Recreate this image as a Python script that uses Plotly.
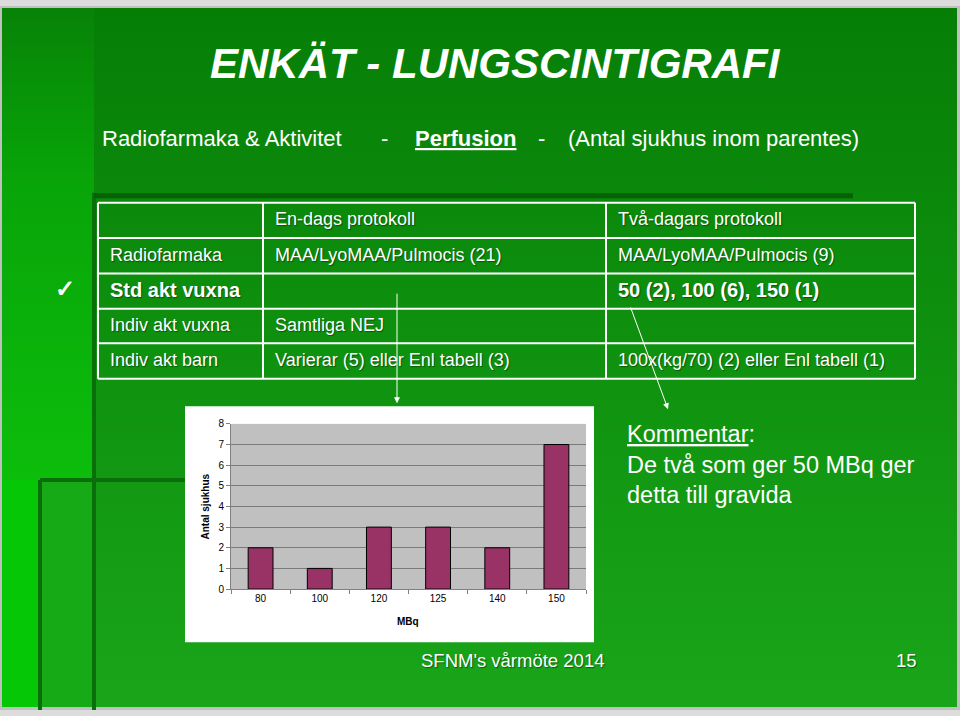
import plotly.graph_objects as go

# Chart data (Antal sjukhus per aktivitet, MBq)
mbq = ['80', '100', '120', '125', '140', '150']
antal_sjukhus = [2, 1, 3, 3, 2, 7]

# Table contents
row_labels = ['', 'Radiofarmaka', 'Std akt vuxna', 'Indiv akt vuxna', 'Indiv akt barn']
en_dags = ['En-dags protokoll', 'MAA/LyoMAA/Pulmocis (21)', '', 'Samtliga NEJ',
           'Varierar (5) eller Enl tabell (3)']
tva_dagars = ['Två-dagars protokoll', 'MAA/LyoMAA/Pulmocis (9)', '50 (2), 100 (6), 150 (1)', '',
              '100x(kg/70) (2) eller Enl tabell (1)']
bold_row = 2

FONT = 'Arial, Liberation Sans, sans-serif'
SHADOW = '1px 1px 1px rgba(0,50,0,0.6)'

fig = go.Figure()


# background pieces are traces in the pixel-coordinate subplot (x/y)
def rect_trace(x0, y0, x1, y1, color=None, gradient=None):
    fig.add_trace(go.Scatter(
        x=[x0, x1, x1, x0, x0], y=[y0, y0, y1, y1, y0],
        mode='none', fill='toself',
        fillcolor=color, fillgradient=gradient,
        hoverinfo='skip', showlegend=False, xaxis='x', yaxis='y'
    ))


rect_trace(2, 2, 957, 713, gradient=dict(
    type='vertical', start=0, stop=716,
    colorscale=[[0, '#067e06'], [0.45, '#0e900e'], [1, '#1aa61a']]))
rect_trace(2, 2, 94, 482, gradient=dict(
    type='vertical', start=0, stop=482,
    colorscale=[[0, '#078207'], [0.35, '#08a408'], [1, '#0cbe0c']]))
rect_trace(2, 482, 40, 713, color='#05c705')
rect_trace(40, 482, 94, 713, color='#16ab16')
# white box behind the chart
rect_trace(185, 407, 594, 647, color='white')

# bar chart
fig.add_trace(go.Bar(
    x=mbq, y=antal_sjukhus, xaxis='x2', yaxis='y2',
    width=0.42,
    marker=dict(color='#993366', line=dict(color='#000000', width=1)),
    showlegend=False
))

shapes = []
# decorative dark lines
dark = '#0a6e0a'
for x0, y0, x1, y1, w, c in [
    (94, 190, 94, 716, 4, dark),
    (94, 193, 853, 193, 5, '#066006'),
    (40, 482, 185, 482, 4, dark),
    (40, 482, 40, 716, 4, dark),
]:
    shapes.append(dict(type='line', xref='x', yref='y', x0=x0, y0=y0, x1=x1, y1=y1,
                       line=dict(color=c, width=w), layer='above'))

# table grid
tbl_x = [98, 263, 606, 915]
tbl_y = [200, 236, 272, 308, 343, 379]
for y in tbl_y:
    shapes.append(dict(type='line', xref='x', yref='y', x0=tbl_x[0], x1=tbl_x[-1], y0=y, y1=y,
                       line=dict(color='white', width=2), layer='above'))
for x in tbl_x:
    shapes.append(dict(type='line', xref='x', yref='y', x0=x, x1=x, y0=tbl_y[0], y1=tbl_y[-1],
                       line=dict(color='white', width=2), layer='above'))

annotations = []


def txt(x, y, text, size, bold=False, anchor='left', color='white', shadow=None, **kw):
    annotations.append(dict(
        x=x, y=y, xref='x', yref='y', text=f'<b>{text}</b>' if bold else text,
        showarrow=False, xanchor=anchor, yanchor='middle',
        font=dict(family=FONT, size=size, color=color, shadow=shadow or 'none'), **kw
    ))


# title + subtitle
txt(495, 58, '<i>ENKÄT - LUNGSCINTIGRAFI</i>', 42, bold=True, anchor='center')
txt(100, 135, 'Radiofarmaka &amp; Aktivitet', 22)
txt(384, 135, '-', 22, anchor='center')
txt(413, 135, '<span style="text-decoration:underline">Perfusion</span>', 22, bold=True)
txt(541, 135, '-', 22, anchor='center')
txt(566, 135, '(Antal sjukhus inom parentes)', 22)

# table text
for i in range(len(row_labels)):
    yc = (tbl_y[i] + tbl_y[i + 1]) / 2 - 1
    b = i == bold_row
    size = 20 if b else 18
    if row_labels[i]:
        txt(108, yc, row_labels[i], size, bold=b, shadow=SHADOW)
    if en_dags[i]:
        txt(273, yc, en_dags[i], size, bold=b, shadow=SHADOW)
    if tva_dagars[i]:
        txt(616, yc, tva_dagars[i], size, bold=b, shadow=SHADOW)

# check mark
txt(65, 287, '<b>✓</b>', 24, anchor='center')

# arrows
for hx, hy, tx, ty in [(397, 404, 397, 291), (668, 410, 630, 305)]:
    annotations.append(dict(x=hx, y=hy, ax=tx, ay=ty, xref='x', yref='y', axref='x', ayref='y',
                            text='', showarrow=True, arrowhead=2, arrowsize=1.2, arrowwidth=1,
                            arrowcolor='white'))

# chart axis titles
txt(205, 509, 'Antal sjukhus', 10, bold=True, anchor='center', color='black', textangle=-90)
txt(408, 626, 'MBq', 10, bold=True, anchor='center', color='black')

# comment
txt(625, 466, '<span style="text-decoration:underline">Kommentar</span>:<br>'
              'De två som ger 50 MBq ger<br>detta till gravida', 23.5, align='left')

# footer
txt(512, 666, "SFNM's vårmöte 2014", 18.5, anchor='center', shadow=SHADOW)
txt(906, 666, '15', 18.5, anchor='center', shadow=SHADOW)

fig.update_layout(
    width=960, height=716,
    margin=dict(l=0, r=0, t=0, b=0),
    paper_bgcolor='#dcdcdc',
    plot_bgcolor='#c0c0c0',
    font=dict(family=FONT),
    showlegend=False,
    hovermode=False,
    xaxis=dict(domain=[0, 1], range=[0, 960], visible=False, fixedrange=True),
    yaxis=dict(domain=[0, 1], range=[716, 0], visible=False, fixedrange=True),
    xaxis2=dict(
        domain=[231 / 960, 586 / 960], anchor='y2', type='category',
        showline=True, linecolor='#808080', linewidth=1,
        ticks='outside', tickson='boundaries', ticklen=4, tickcolor='#808080',
        tickfont=dict(size=10, color='black'), showgrid=False
    ),
    yaxis2=dict(
        domain=[1 - 593 / 716, 1 - 425 / 716], anchor='x2', range=[0, 8], dtick=1,
        showline=True, linecolor='#808080', linewidth=1,
        ticks='outside', ticklen=4, tickcolor='#808080',
        tickfont=dict(size=10, color='black'),
        showgrid=True, gridcolor='#7a7a7a', gridwidth=1, zeroline=False
    ),
    shapes=shapes,
    annotations=annotations,
    bargap=0.58
)

# the page body has a default 8px margin; drop it so the slide fills the window
fig.write_html('out.html', config={'displayModeBar': False},
               post_script="document.body.style.margin='0px';")
